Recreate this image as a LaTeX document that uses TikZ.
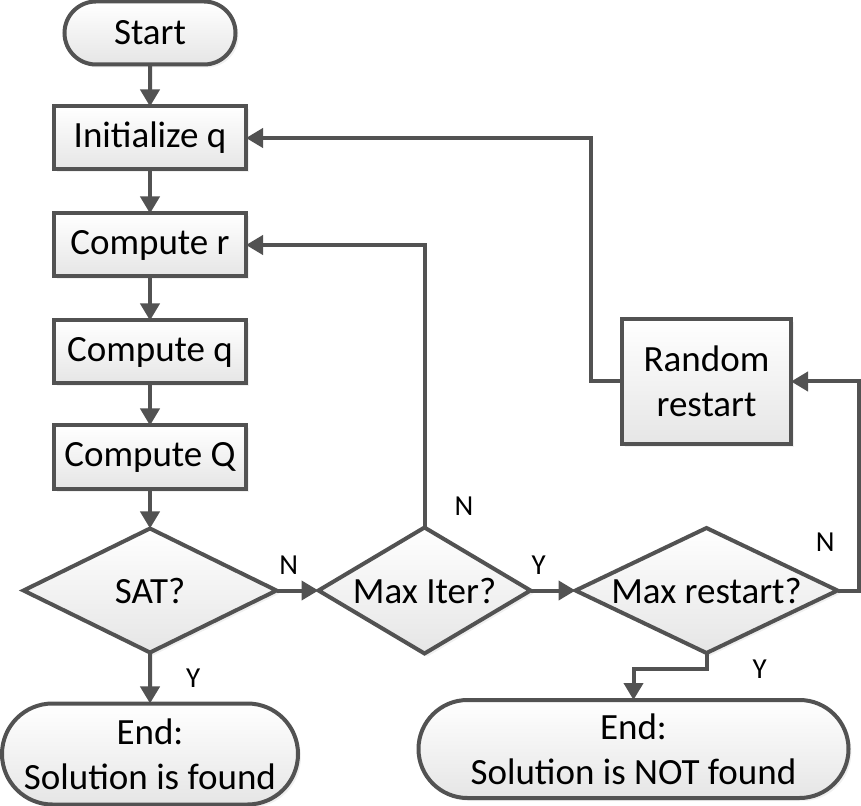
\documentclass[tikz,border=0pt]{standalone}
\usepackage{fontspec}
\setmainfont{Carlito}
\usepackage{tikz}
\usetikzlibrary{arrows.meta,positioning,shapes.geometric,shapes.misc,shadows}

\definecolor{edgegray}{RGB}{82,82,82}

\begin{document}
\begin{tikzpicture}[x=0.5pt,y=-0.5pt,>={Triangle[length=8.5pt,width=9.5pt]},
  line width=2pt,draw=edgegray,
  box/.style={draw=edgegray,line width=2pt,top color=white,bottom color=gray!20,
    drop shadow={opacity=0.12,shadow xshift=1.5pt,shadow yshift=-1.5pt},
    font=\fontsize{18.5}{22.5}\selectfont,align=center,inner sep=0pt,outer sep=0pt},
  proc/.style={box,rectangle,minimum width=96pt,minimum height=31.5pt},
  term/.style={box,rounded rectangle},
  test/.style={box,diamond,aspect=2},
  lbl/.style={font=\fontsize{14.5}{16}\selectfont,inner sep=0pt}]
  \useasboundingbox (0,0) rectangle (861,806);
  \node[term,minimum width=85.5pt,minimum height=31.5pt] (start) at (150,33) {Start};
  \node[proc,below=21pt of start] (init) {Initialize q};
  \node[proc,below=22pt of init] (compr) {Compute r};
  \node[proc,below=22pt of compr] (compq) {Compute q};
  \node[proc,below=21pt of compq] (compQ) {Compute Q};
  \node[test,minimum width=126.5pt,minimum height=62pt,below=20pt of compQ] (sat) {SAT?};
  \node[term,minimum width=148pt,minimum height=50.5pt,below=25.5pt of sat] (found) {End:\\Solution is found};
  \node[test,minimum width=106pt,minimum height=63pt,right=21pt of sat] (maxiter) {Max Iter?};
  \node[test,minimum width=131pt,minimum height=62.5pt,right=22.5pt of maxiter] (maxrestart) {Max restart?};
  \node[proc,minimum width=84.5pt,minimum height=62.5pt,above=42pt of maxrestart] (random) {Random\\restart};
  \node[term,minimum width=215pt,minimum height=49pt,below=23.5pt of maxrestart,xshift=-36.5pt] (notfound) {End:\\Solution is NOT found};
  \draw[->] (start)--(init);
  \draw[->] (init)--(compr);
  \draw[->] (compr)--(compq);
  \draw[->] (compq)--(compQ);
  \draw[->] (compQ)--(sat);
  \draw[->] (sat)--node[lbl,midway,right=17pt](satY){Y}(found);
  \draw[->] (sat.east)--node[lbl,pos=0.29,above=7pt](satN){N}(maxiter.west);
  \draw[->] (maxiter.north)|-node[lbl,pos=0.0375,right=14pt](iterN){N}(compr.east);
  \draw[->] (maxiter.east)--node[lbl,pos=0.18,above=7pt](iterY){Y}(maxrestart.west);
  \draw[->] (maxrestart.east)--++(10.5pt,0)|-node[lbl,pos=0.115,left=11pt](restartN){N}(random.east);
  \draw[->] (maxrestart.south)--++(0,-8pt)node[lbl,at end,right=22pt](restartY){Y}-|(notfound.north);
  \draw[->] (random.west)--++(-15.5pt,0)|-(init.east);
\end{tikzpicture}
\end{document}
